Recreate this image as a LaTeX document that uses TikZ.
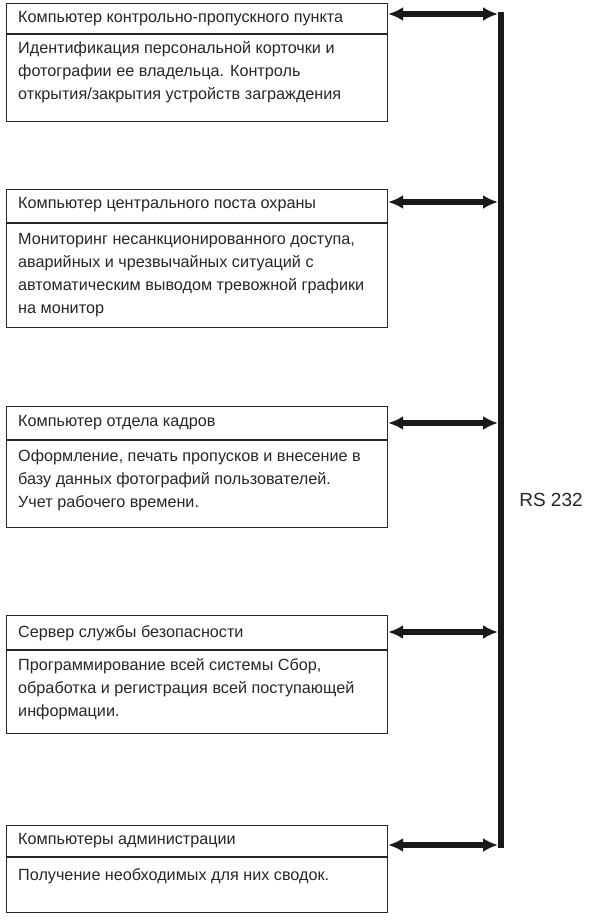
\documentclass[tikz,border=0pt]{standalone}
\usepackage{fontspec}
\setmainfont{Liberation Sans}
\usetikzlibrary{arrows.meta}
\begin{document}
\begin{tikzpicture}[x=1pt,y=-1pt,
  box/.style={draw=black!85, line width=1.1pt, anchor=north west, minimum width=381pt, inner sep=0pt},
  hdr/.style={anchor=west, inner sep=0pt, font=\fontsize{16.2}{23}\selectfont, text=black!85},
  body/.style={anchor=north west, inner sep=0pt, align=left, font=\fontsize{16.2}{23}\selectfont, text=black!85},
  link/.style={line width=5.5pt, draw=black!90, {Latex[length=15pt,width=14pt]}-{Latex[length=15pt,width=14pt]}},
  busline/.style={line width=6.5pt, draw=black!90},
  divider/.style={draw=black!85, line width=1.1pt}]
\useasboundingbox (0,0) rectangle (596,924);

% boxes
\node[box, minimum height=118pt] (b1) at (6,3) {};
\node[box, minimum height=138pt] (b2) at (6,189) {};
\node[box, minimum height=121pt] (b3) at (6,406) {};
\node[box, minimum height=118pt] (b4) at (6,615) {};
\node[box, minimum height=87pt] (b5) at (6,825) {};

% dividers
\draw[divider] (b1.west |- 0,34) -- (b1.east |- 0,34);
\draw[divider] (b2.west |- 0,223) -- (b2.east |- 0,223);
\draw[divider] (b3.west |- 0,440) -- (b3.east |- 0,440);
\draw[divider] (b4.west |- 0,650) -- (b4.east |- 0,650);
\draw[divider] (b5.west |- 0,857) -- (b5.east |- 0,857);

% headers
\node[hdr] (h1) at (18,18.5) {Компьютер контрольно-пропускного пункта};
\node[hdr] (h2) at (18,205) {Компьютер центрального поста охраны};
\node[hdr] (h3) at (18,423) {Компьютер отдела кадров};
\node[hdr] (h4) at (18,633) {Сервер службы безопасности};
\node[hdr] (h5) at (18,841) {Компьютеры администрации};

% bodies
\node[body] (t1) at (18,41) {Идентификация персональной корточки и\\фотографии ее владельца. Контроль\\открытия/закрытия устройств заграждения};
\node[body] (t2) at (18,233) {Мониторинг несанкционированного доступа,\\аварийных и чрезвычайных ситуаций с\\автоматическим выводом тревожной графики\\на монитор};
\node[body] (t3) at (18,450) {Оформление, печать пропусков и внесение в\\базу данных фотографий пользователей.\\Учет рабочего времени.};
\node[body] (t4) at (18,658) {Программирование всей системы Сбор,\\обработка и регистрация всей поступающей\\информации.};
\node[body] (t5) at (18,868) {Получение необходимых для них сводок.};

% bus coordinates
\coordinate (p1) at (498,14);
\coordinate (p2) at (498,202);
\coordinate (p3) at (498,423);
\coordinate (p4) at (498,632);
\coordinate (p5) at (498,845);
\coordinate (btop) at (501,11.5);
\coordinate (bbot) at (501,848);

\draw[busline] (btop) -- (bbot);
\draw[link] (p1 -| b1.east) -- (p1);
\draw[link] (p2 -| b2.east) -- (p2);
\draw[link] (p3 -| b3.east) -- (p3);
\draw[link] (p4 -| b4.east) -- (p4);
\draw[link] (p5 -| b5.east) -- (p5);

\node[font=\fontsize{19}{23}\selectfont, text=black!85] (rs) at (551,500) {RS 232};
\end{tikzpicture}
\end{document}
